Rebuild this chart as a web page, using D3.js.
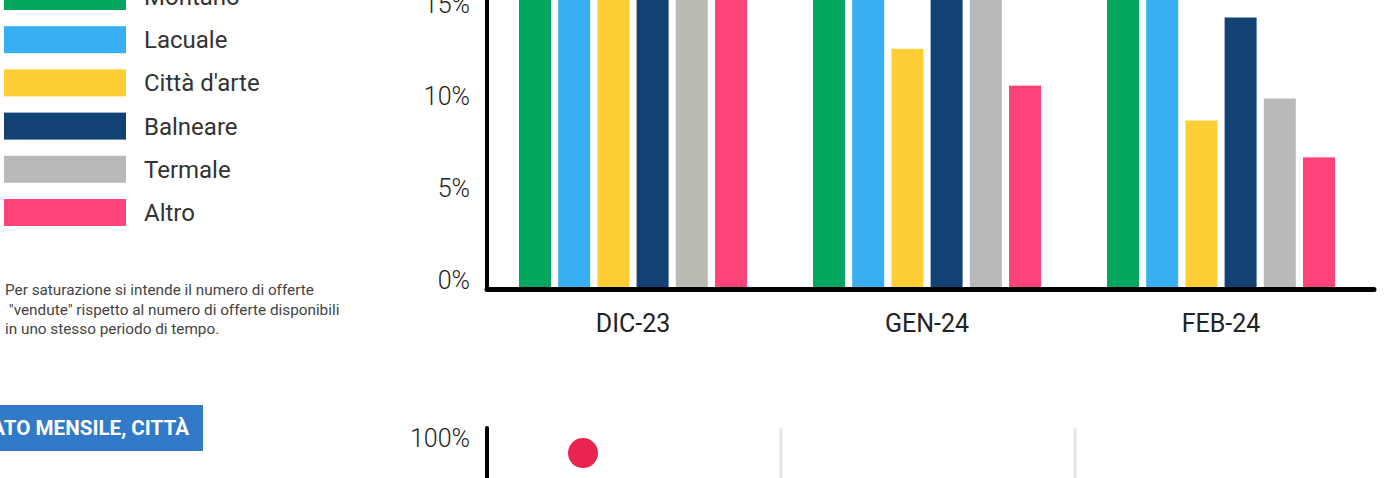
<!DOCTYPE html>
<html>
<head>
<meta charset="utf-8">
<script src="https://cdn.jsdelivr.net/npm/d3@7"></script>
<style>
  html, body { margin: 0; padding: 0; background: #fff; overflow: hidden; }
  svg { display: block; font-family: Roboto, "Open Sans", sans-serif; }
</style>
</head>
<body>
<svg id="chart" width="1391" height="478"></svg>
<script>
// ---------- data ----------
const months = ["DIC-23", "GEN-24", "FEB-24"];
const series = ["Montano", "Lacuale", "Città d'arte", "Balneare", "Termale", "Altro"];
// saturation (%) per month, one array per series (values above ~15.6% are outside the visible crop)
const montano    = [24.0, 22.0, 20.0];
const lacuale    = [21.0, 19.0, 18.0];
const cittaArte  = [18.0, 13.0, 9.1];
const balneare   = [25.0, 17.0, 14.7];
const termale    = [19.0, 16.5, 10.3];
const altro      = [17.0, 11.0, 7.1];
const yTicks = [0, 5, 10, 15];
const noteLines = [
  "Per saturazione si intende il numero di offerte",
  " \"vendute\" rispetto al numero di offerte disponibili",
  "in uno stesso periodo di tempo."
];
const headerText = "SATURAZIONE, DATO MENSILE, CITTÀ";
const bottomTicks = [100];
const bottomPoints = [{ col: 0, value: 97.8 }];

const colors = ["#02A65E", "#37AFF2", "#FFCE34", "#124174", "#B8B9BB", "#FF4479"];
const valuesBySeries = [montano, lacuale, cittaArte, balneare, termale, altro];

// ---------- drawing ----------
const svg = d3.select("#chart");

// scales
const x0 = d3.scaleBand().domain(months).range([486, 1368]).paddingInner(0).paddingOuter(0);
const groupW = 228;
const x1 = d3.scaleBand().domain(series).range([0, groupW]).paddingInner(0.1837).paddingOuter(0);
const y = d3.scaleLinear().domain([0, 15]).range([288, 12]);

// bars
const flat = [];
months.forEach((m, mi) => series.forEach((s, si) => flat.push({ m, s, si, v: valuesBySeries[si][mi] })));
svg.append("g").selectAll("rect").data(flat).join("rect")
  .attr("x", d => x0(d.m) + (x0.bandwidth() - groupW) / 2 + x1(d.s))
  .attr("width", x1.bandwidth())
  .attr("y", d => y(d.v))
  .attr("height", d => y(0) - y(d.v))
  .attr("fill", d => (d.m === "DIC-23" && d.si === 4) ? "#BABCB4" : colors[d.si]);

// y axis labels
const yAxis = d3.axisLeft(y).tickValues(yTicks).tickSize(0).tickPadding(0).tickFormat(d => d + "%");
const gy = svg.append("g").attr("transform", "translate(470,-8)").call(yAxis);
gy.select(".domain").remove();
gy.selectAll("text").attr("font-family", "Roboto, sans-serif").attr("font-weight", 300)
  .attr("font-size", 25).attr("fill", "#222");

// x axis labels
const xAxis = d3.axisBottom(x0).tickSize(0).tickPadding(0);
const gx = svg.append("g").attr("transform", "translate(0,314)").call(xAxis);
gx.select(".domain").remove();
gx.selectAll("text").attr("font-family", "Roboto, sans-serif").attr("font-size", 25)
  .attr("fill", "#222").attr("dy", "0.71em");

// axis lines
svg.append("line").attr("x1", 487).attr("x2", 487).attr("y1", -10).attr("y2", y(0) + 1)
  .attr("stroke", "#000").attr("stroke-width", 4);
svg.append("line").attr("x1", 487).attr("x2", 1374).attr("y1", y(0) + 1.5).attr("y2", y(0) + 1.5)
  .attr("stroke", "#000").attr("stroke-width", 5).attr("stroke-linecap", "round");

// legend
const lg = svg.append("g").selectAll("g").data(series).join("g")
  .attr("transform", (d, i) => `translate(0, ${-17 + i * 43.2})`);
lg.append("rect").attr("x", 4).attr("y", 0).attr("width", 122).attr("height", 27)
  .attr("fill", (d, i) => colors[i]);
lg.append("text").attr("x", 144).attr("y", 13.5).attr("dy", "0.35em")
  .attr("font-size", 24).attr("fill", "#333").text(d => d);

// footnote
svg.append("g").selectAll("text").data(noteLines).join("text")
  .attr("x", 5).attr("y", (d, i) => 295 + i * 19.5)
  .attr("font-size", 15.3).attr("fill", "#444").attr("xml:space", "preserve")
  .style("white-space", "pre").text(d => d);

// header box
svg.append("rect").attr("x", -260).attr("y", 405).attr("width", 463).attr("height", 46).attr("fill", "#3279C7");
svg.append("text").attr("x", 189).attr("y", 435).attr("text-anchor", "end")
  .attr("font-size", 20.6).attr("font-weight", 700).attr("fill", "#fff").text(headerText);

// bottom chart (partially visible)
const xb = d3.scaleBand().domain([0, 1, 2]).range([487, 1369]);
const yb = d3.scaleLinear().domain([0, 100]).range([766, 446]);
svg.append("g").selectAll("line").data([1, 2]).join("line")
  .attr("x1", d => xb(d)).attr("x2", d => xb(d)).attr("y1", 428).attr("y2", 500)
  .attr("stroke", "#E6E6E6").attr("stroke-width", 3);
const yAxisB = d3.axisLeft(yb).tickValues(bottomTicks).tickSize(0).tickPadding(0).tickFormat(d => d + "%");
const gyb = svg.append("g").attr("transform", "translate(470,-8)").call(yAxisB);
gyb.select(".domain").remove();
gyb.selectAll("text").attr("font-family", "Roboto, sans-serif").attr("font-weight", 300)
  .attr("font-size", 25).attr("fill", "#222");
svg.append("line").attr("x1", 487).attr("x2", 487).attr("y1", 428).attr("y2", 500)
  .attr("stroke", "#000").attr("stroke-width", 4).attr("stroke-linecap", "round");
svg.append("g").selectAll("circle").data(bottomPoints).join("circle")
  .attr("cx", d => xb(d.col) + 96).attr("cy", d => yb(d.value)).attr("r", 15).attr("fill", "#E8254F");
</script>
</body>
</html>
